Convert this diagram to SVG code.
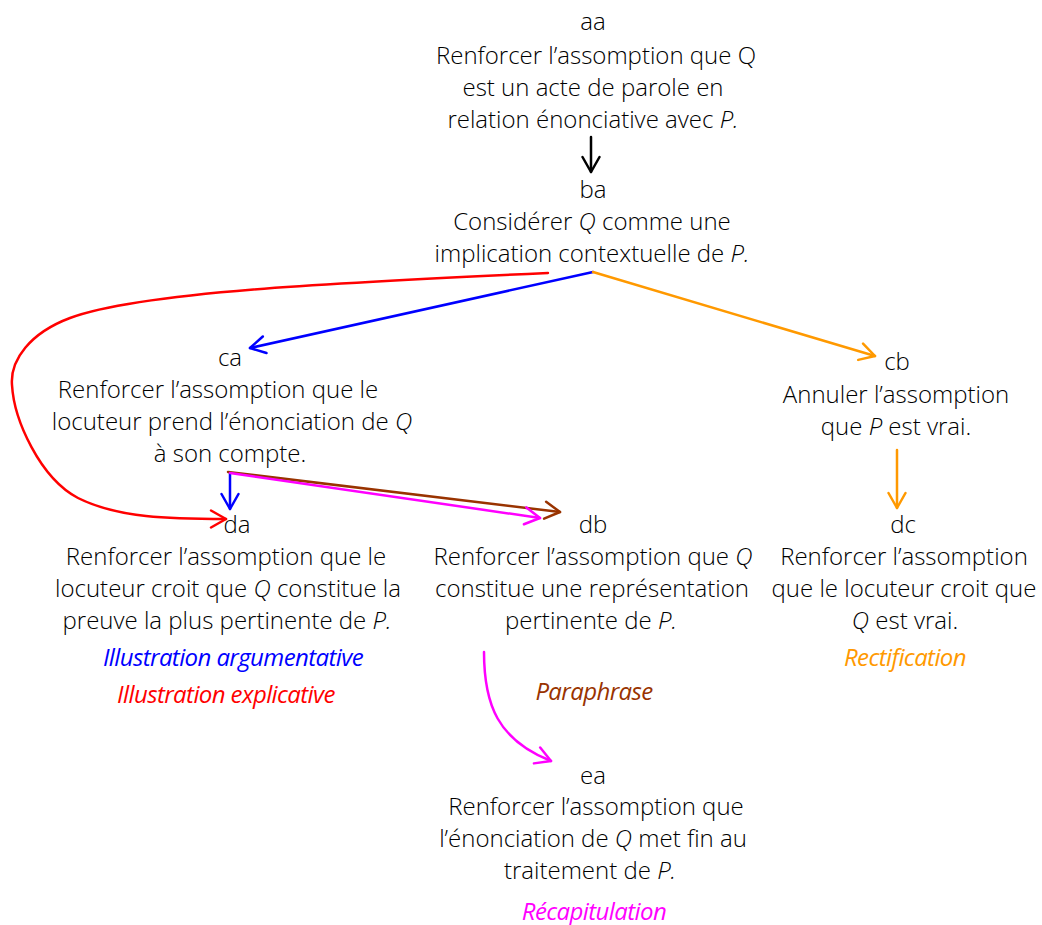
<svg xmlns="http://www.w3.org/2000/svg" width="1042" height="925" viewBox="0 0 1042 925">
  <style>
    text { font-family: "Open Sans", "Liberation Sans", sans-serif; font-weight: 300; font-size: 24px; fill: #000; text-anchor: middle; }
    .i { font-style: italic; }
    .lab { font-style: italic; font-weight: 500; font-size: 24px; letter-spacing: -0.6px; }
    .c { fill: none; stroke-width: 2.5; stroke-linecap: round; stroke-linejoin: round; }
  </style>
  <defs>
    <marker id="hk" viewBox="0 0 20 20" refX="18" refY="10" markerWidth="20" markerHeight="20" markerUnits="userSpaceOnUse" orient="auto"><path d="M3,1.5 L18,10 L3,18.5" fill="none" stroke="#000" stroke-width="2.5" stroke-linecap="round" stroke-linejoin="round"/></marker>
    <marker id="hb" viewBox="0 0 20 20" refX="18" refY="10" markerWidth="20" markerHeight="20" markerUnits="userSpaceOnUse" orient="auto"><path d="M3,1.5 L18,10 L3,18.5" fill="none" stroke="#0000ff" stroke-width="2.5" stroke-linecap="round" stroke-linejoin="round"/></marker>
    <marker id="hr" viewBox="0 0 20 20" refX="18" refY="10" markerWidth="20" markerHeight="20" markerUnits="userSpaceOnUse" orient="auto"><path d="M3,1.5 L18,10 L3,18.5" fill="none" stroke="#ff0000" stroke-width="2.5" stroke-linecap="round" stroke-linejoin="round"/></marker>
    <marker id="ho" viewBox="0 0 20 20" refX="18" refY="10" markerWidth="20" markerHeight="20" markerUnits="userSpaceOnUse" orient="auto"><path d="M3,1.5 L18,10 L3,18.5" fill="none" stroke="#ff9900" stroke-width="2.5" stroke-linecap="round" stroke-linejoin="round"/></marker>
    <marker id="hm" viewBox="0 0 20 20" refX="18" refY="10" markerWidth="20" markerHeight="20" markerUnits="userSpaceOnUse" orient="auto"><path d="M3,1.5 L18,10 L3,18.5" fill="none" stroke="#ff00ff" stroke-width="2.5" stroke-linecap="round" stroke-linejoin="round"/></marker>
    <marker id="hn" viewBox="0 0 20 20" refX="18" refY="10" markerWidth="20" markerHeight="20" markerUnits="userSpaceOnUse" orient="auto"><path d="M3,1.5 L18,10 L3,18.5" fill="none" stroke="#993300" stroke-width="2.5" stroke-linecap="round" stroke-linejoin="round"/></marker>
  </defs>

  <g id="connectors">
    <path class="c" stroke="#000" d="M591,137 L591,172" marker-end="url(#hk)"/>
    <path class="c" stroke="#ff0000" d="M548,273 C 330,283 140,292 70,318 C 30,333 10,360 12,385 C 14,420 40,478 78,498 C 118,518 170,519 226,519" marker-end="url(#hr)"/>
    <path class="c" stroke="#0000ff" d="M593,272 L250,348" marker-end="url(#hb)"/>
    <path class="c" stroke="#ff9900" d="M593,272 L875,356" marker-end="url(#ho)"/>
    <path class="c" stroke="#ff9900" d="M897,450 L897,508" marker-end="url(#ho)"/>
    <path class="c" stroke="#0000ff" d="M230,473 L230,509" marker-end="url(#hb)"/>
    <path class="c" stroke="#993300" d="M228,472 L560,512" marker-end="url(#hn)"/>
    <path class="c" stroke="#ff00ff" d="M230,473 L540,518" marker-end="url(#hm)"/>
    <path class="c" stroke="#ff00ff" d="M484,652 C 484,705 498,740 551,761" marker-end="url(#hm)"/>
  </g>

  <g id="aa">
    <text x="593" y="30">aa</text>
    <text x="596" y="64">Renforcer l’assomption que Q</text>
    <text x="593" y="96">est un acte de parole en</text>
    <text x="593" y="128">relation énonciative avec <tspan class="i">P.</tspan></text>
  </g>
  <g id="ba">
    <text x="593" y="198">ba</text>
    <text x="592" y="230">Considérer <tspan class="i">Q</tspan> comme une</text>
    <text x="592" y="262">implication contextuelle de <tspan class="i">P.</tspan></text>
  </g>
  <g id="ca">
    <text x="230" y="366">ca</text>
    <text x="218" y="398">Renforcer l’assomption que le</text>
    <text x="232" y="430">locuteur prend l’énonciation de <tspan class="i">Q</tspan></text>
    <text x="230" y="462">à son compte.</text>
  </g>
  <g id="cb">
    <text x="897" y="370">cb</text>
    <text x="896" y="403">Annuler l’assomption</text>
    <text x="896" y="435">que <tspan class="i">P</tspan> est vrai.</text>
  </g>
  <g id="da">
    <text x="237" y="533">da</text>
    <text x="226" y="565">Renforcer l’assomption que le</text>
    <text x="228" y="597">locuteur croit que <tspan class="i">Q</tspan> constitue la</text>
    <text x="227" y="629">preuve la plus pertinente de <tspan class="i">P.</tspan></text>
    <text class="lab" x="233" y="666" style="fill:#0000ff">Illustration argumentative</text>
    <text class="lab" x="226" y="703" style="fill:#ff0000">Illustration explicative</text>
  </g>
  <g id="db">
    <text x="593" y="533">db</text>
    <text x="593" y="565">Renforcer l’assomption que <tspan class="i">Q</tspan></text>
    <text x="592" y="597">constitue une représentation</text>
    <text x="591" y="629">pertinente de <tspan class="i">P.</tspan></text>
    <text class="lab" x="594" y="700" style="fill:#993300">Paraphrase</text>
  </g>
  <g id="dc">
    <text x="903" y="533">dc</text>
    <text x="904" y="565">Renforcer l’assomption</text>
    <text x="904" y="597">que le locuteur croit que</text>
    <text x="905" y="629"><tspan class="i">Q</tspan> est vrai.</text>
    <text class="lab" x="905" y="666" style="fill:#ff9900">Rectification</text>
  </g>
  <g id="ea">
    <text x="593" y="784">ea</text>
    <text x="596" y="815">Renforcer l’assomption que</text>
    <text x="593" y="847">l’énonciation de <tspan class="i">Q</tspan> met fin au</text>
    <text x="590" y="879">traitement de <tspan class="i">P.</tspan></text>
    <text class="lab" x="594" y="920" style="fill:#ff00ff">Récapitulation</text>
  </g>
</svg>
